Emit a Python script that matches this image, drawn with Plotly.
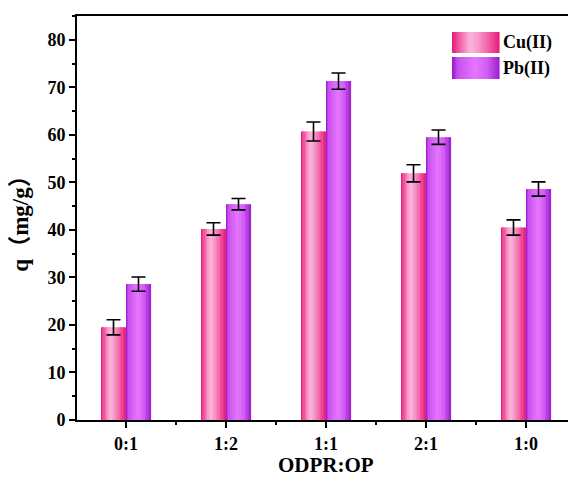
import plotly.graph_objects as go

categories = ["0:1", "1:2", "1:1", "2:1", "1:0"]
cu_values = [19.5, 40.2, 60.7, 51.9, 40.5]
cu_errors = [1.6, 1.3, 2.0, 1.8, 1.6]
pb_values = [28.6, 45.4, 71.3, 59.5, 48.6]
pb_errors = [1.5, 1.2, 1.7, 1.5, 1.5]
series_names = ["Cu(II)", "Pb(II)"]

W, H = 568, 477
ML, MT, MR, MB = 77, 16, 0, 57
PW, PH = W - ML - MR, H - MT - MB
XMIN, XMAX = -0.49, 4.42
YMAX = 85

BAR_W = 0.25
NSLICE = 18
SERIF = "Times New Roman, Liberation Serif, serif"

cu_stops = [(0.0, (228, 25, 115)), (0.12, (240, 75, 155)), (0.38, (251, 182, 218)),
            (0.55, (248, 155, 205)), (0.8, (241, 85, 160)), (1.0, (228, 30, 120))]
pb_stops = [(0.0, (145, 22, 195)), (0.12, (200, 80, 238)), (0.5, (230, 120, 255)),
            (0.75, (208, 88, 244)), (1.0, (155, 32, 205))]


def interp(stops, t):
    for (t0, c0), (t1, c1) in zip(stops[:-1], stops[1:]):
        if t0 <= t <= t1:
            f = (t - t0) / (t1 - t0) if t1 > t0 else 0
            return "rgb(%d,%d,%d)" % tuple(round(a + (b - a) * f) for a, b in zip(c0, c1))
    return "rgb(%d,%d,%d)" % stops[-1][1]


fig = go.Figure()
xs = list(range(len(categories)))

for vals, errs, stops, off in [(cu_values, cu_errors, cu_stops, -BAR_W),
                               (pb_values, pb_errors, pb_stops, 0.0)]:
    sw = BAR_W / NSLICE
    for i in range(NSLICE):
        t = (i + 0.5) / NSLICE
        fig.add_trace(go.Bar(
            x=xs, y=vals, width=sw * 1.08, offset=off + i * sw,
            marker=dict(color=interp(stops, t), line=dict(width=0)),
            showlegend=False, hoverinfo="skip"))
    fig.add_trace(go.Bar(
        x=xs, y=vals, width=BAR_W, offset=off,
        marker=dict(color="rgba(0,0,0,0)", line=dict(width=0)),
        error_y=dict(type="data", array=errs, visible=True, color="black",
                     thickness=1.6, width=7),
        showlegend=False))

# manual legend with gradient swatches
def px2paper(px, py):
    return (px - ML) / PW, (H - MB - py) / PH

shapes = []
annotations = []
for k, (name, stops, y0, y1) in enumerate([(series_names[0], cu_stops, 32, 53),
                                           (series_names[1], pb_stops, 57, 79)]):
    x0, x1 = 452, 499
    n = 24
    for i in range(n):
        a = x0 + (x1 - x0) * i / n
        b = x0 + (x1 - x0) * (i + 1) / n + 0.6
        pa = px2paper(a, y1)
        pb = px2paper(b, y0)
        shapes.append(dict(type="rect", xref="paper", yref="paper",
                           x0=pa[0], x1=pb[0], y0=pa[1], y1=pb[1],
                           fillcolor=interp(stops, (i + 0.5) / n), line=dict(width=0), layer="above"))
    tx, ty = px2paper(501, (y0 + y1) / 2)
    annotations.append(dict(xref="paper", yref="paper", x=tx, y=ty, text=name,
                            showarrow=False, xanchor="left", yanchor="middle",
                            font=dict(family=SERIF, size=18, color="black", weight="bold")))

# x-axis title placed below tick labels
tx, ty = px2paper(ML + PW * (2 - XMIN) / (XMAX - XMIN), 465)
annotations.append(dict(xref="paper", yref="paper", x=tx, y=ty, text="ODPR:OP",
                        showarrow=False, xanchor="center", yanchor="middle",
                        font=dict(family=SERIF, size=21, color="black", weight="bold")))

font_tick = dict(family=SERIF, size=18, color="black", weight="bold")

fig.update_layout(
    width=W, height=H, margin=dict(l=ML, r=MR, t=MT, b=MB),
    paper_bgcolor="white", plot_bgcolor="white",
    barmode="overlay", showlegend=False,
    shapes=shapes, annotations=annotations,
    xaxis=dict(range=[XMIN, XMAX], tickmode="array", tickvals=xs, ticktext=categories,
               showgrid=False, zeroline=False, showline=True, linecolor="black", linewidth=2,
               mirror=True, ticks="outside", ticklen=6, tickwidth=2, tickcolor="black",
               tickfont=font_tick, ticklabelstandoff=0,
               minor=dict(tickmode="array", tickvals=[x + 0.5 for x in xs[:-1]] + [4.5],
                          ticks="outside", ticklen=3, tickwidth=2, tickcolor="black")),
    yaxis=dict(range=[0, YMAX], tickmode="linear", tick0=0, dtick=10,
               showgrid=False, zeroline=False, showline=True, linecolor="black", linewidth=2,
               ticks="outside", ticklen=6, tickwidth=2, tickcolor="black",
               tickfont=font_tick,
               minor=dict(dtick=5, ticks="outside", ticklen=3, tickwidth=2, tickcolor="black"),
               title=dict(text="q（mg/g）", standoff=12,
                          font=dict(family=SERIF + ", Noto Sans CJK SC", size=23,
                                    color="black", weight="bold"))),
)

fig.write_html("out.html")
